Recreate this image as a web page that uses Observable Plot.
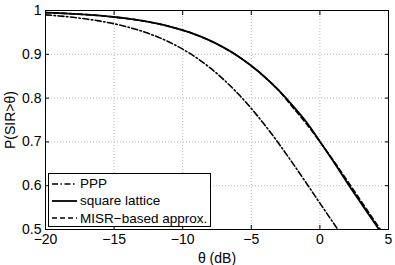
<!DOCTYPE html>
<html>
<head>
<meta charset="utf-8">
<script src="https://cdn.jsdelivr.net/npm/d3@7"></script>
<script src="https://cdn.jsdelivr.net/npm/@observablehq/plot@0.6"></script>
<style>
  body { margin: 0; background: #fff; }
  #wrap { position: relative; width: 395px; height: 265px; font-family: "Liberation Sans", Arial, sans-serif; }
  #legend { position: absolute; left: 48px; top: 173px; width: 163px; height: 54px; background: #fff; border: 1px solid #000; box-sizing: border-box; font-size: 13.5px; padding-top: 1px; }
  #legend .row { display: flex; align-items: center; height: 17.3px; }
  #legend svg { margin-left: 3px; margin-right: 3px; }
</style>
</head>
<body>
<div id="wrap"></div>
<script>
const theta = [-20,-19,-18,-17,-16,-15,-14,-13,-12,-11,-10,-9,-8,-7,-6,-5,-4,-3,-2,-1,0,1,2,3,4,5];
const ppp = [0.9901,0.9876,0.9845,0.9805,0.9757,0.9697,0.9622,0.9530,0.9418,0.9282,0.9117,0.8922,0.8690,0.8420,0.8111,0.7763,0.7379,0.6964,0.6521,0.6065,0.5601,0.5141,0.4690,0.43,0.40,0.37];
const lattice = [0.9952,0.9940,0.9925,0.9906,0.9882,0.9852,0.9814,0.9768,0.9710,0.9638,0.9550,0.9442,0.9311,0.9152,0.8963,0.8738,0.8476,0.8176,0.7836,0.7460,0.7010,0.6545,0.6063,0.5601,0.5141,0.4690];
const misr = [0.9952,0.9940,0.9925,0.9906,0.9882,0.9852,0.9814,0.9768,0.9710,0.9638,0.9550,0.9442,0.9311,0.9152,0.8963,0.8738,0.8476,0.8176,0.7799,0.7420,0.7005,0.6567,0.6111,0.5648,0.5186,0.4734];
const xTicks = [-20,-15,-10,-5,0,5];
const yTicks = [0.5,0.6,0.7,0.8,0.9,1];
const seriesNames = ["PPP","square lattice","MISR\u2212based approx."];
const dashes = ["6,2.5,1.5,2.5", null, "5,3"];

const rows = (ys) => theta.map((t,i) => ({t, p: ys[i]}));
const fmt = d => (d < 0 ? "\u2212" + Math.abs(d) : String(d));
const blank = () => "";

const chart = Plot.plot({
  width: 395,
  height: 265,
  marginLeft: 45,
  marginRight: 7,
  marginTop: 10,
  marginBottom: 36,
  style: {fontFamily: "Liberation Sans, Arial, sans-serif", fontSize: "14px", color: "#000", background: "#fff"},
  x: {domain: [-20, 5]},
  y: {domain: [0.5, 1]},
  marks: [
    Plot.gridX(xTicks, {stroke: "#bbb", strokeOpacity: 1, strokeDasharray: "1,2"}),
    Plot.gridY(yTicks, {stroke: "#bbb", strokeOpacity: 1, strokeDasharray: "1,2"}),
    Plot.line(rows(ppp), {x: "t", y: "p", stroke: "#000", strokeWidth: 1.6, strokeDasharray: dashes[0], clip: true, curve: "catmull-rom"}),
    Plot.line(rows(lattice), {x: "t", y: "p", stroke: "#000", strokeWidth: 1.8, clip: true, curve: "catmull-rom"}),
    Plot.line(rows(misr), {x: "t", y: "p", stroke: "#000", strokeWidth: 1.6, strokeDasharray: dashes[2], clip: true, curve: "catmull-rom"}),
    Plot.frame({stroke: "#000", strokeWidth: 1}),
    Plot.axisX(xTicks, {anchor: "bottom", tickSize: -4, tickPadding: 9, tickFormat: fmt, label: "\u03b8 (dB)", labelAnchor: "center", labelArrow: "none", labelOffset: 33, fontSize: 14}),
    Plot.axisX(xTicks, {anchor: "top", tickSize: -4, tickFormat: blank, label: null}),
    Plot.axisY(yTicks, {anchor: "left", tickSize: -4, tickPadding: 8, tickFormat: d => String(d), label: "P(SIR>\u03b8)", labelAnchor: "center", labelArrow: "none", labelOffset: 40, fontSize: 14}),
    Plot.axisY(yTicks, {anchor: "right", tickSize: -4, tickFormat: blank, label: null})
  ]
});
const wrap = document.getElementById("wrap");
wrap.appendChild(chart);

const legend = document.createElement("div");
legend.id = "legend";
seriesNames.forEach((name, i) => {
  const row = document.createElement("div");
  row.className = "row";
  const sw = d3.create("svg").attr("width", 25).attr("height", 10);
  sw.append("line").attr("x1", 0).attr("x2", 25).attr("y1", 5).attr("y2", 5)
    .attr("stroke", "#000").attr("stroke-width", i === 1 ? 1.8 : 1.6)
    .attr("stroke-dasharray", dashes[i]);
  row.appendChild(sw.node());
  const span = document.createElement("span");
  span.textContent = name;
  row.appendChild(span);
  legend.appendChild(row);
});
wrap.appendChild(legend);
</script>
</body>
</html>
